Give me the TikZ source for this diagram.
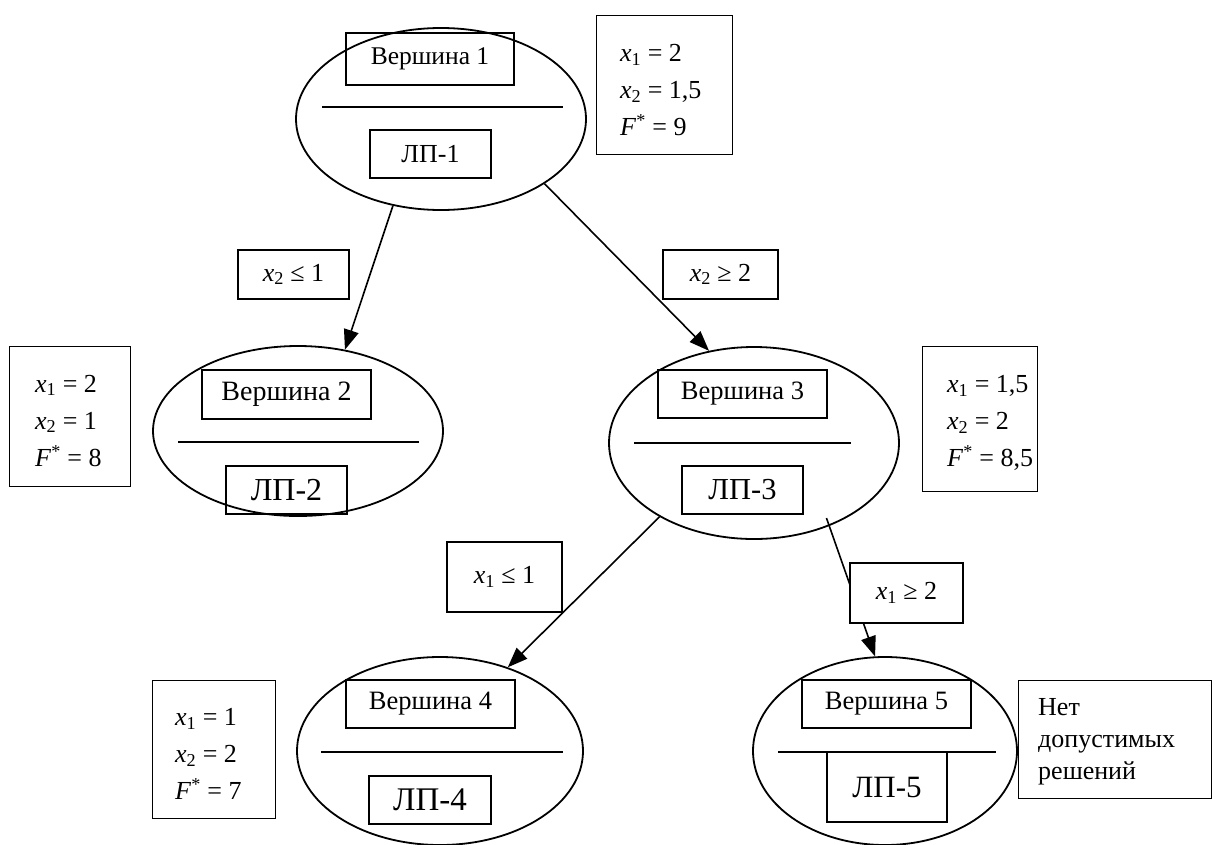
\documentclass[tikz,border=0pt]{standalone}
\usepackage{fontspec}
\setmainfont{Liberation Serif}
\usetikzlibrary{shapes.geometric,arrows.meta,calc}
\newcommand\fs[1]{\fontsize{#1}{#1}\selectfont}
\newcommand\vx[1]{\textit{x}\textsubscript{#1}}
\newcommand\Fs{\textit{F}\textsuperscript{*}}
\tikzset{
  vert/.style={ellipse, draw, line width=1.8pt, inner sep=0pt},
  hbox/.style={draw, line width=1.4pt, inner sep=0pt},
  sep/.style={line width=1.8pt},
  info/.style={draw, line width=1.4pt, anchor=north west, inner sep=0pt},
  itext/.style={anchor=west, align=left, inner sep=0pt, font=\fontsize{26}{37}\selectfont},
  cond/.style={draw, fill=white, line width=1.4pt, inner sep=0pt, font=\fs{26}},
  arr/.style={line width=1.6pt, -{Triangle[length=20pt,width=15pt]}}
}
\begin{document}
\begin{tikzpicture}[x=1pt,y=-1pt]
\useasboundingbox (0,0) rectangle (1216,844);
% vertices
\node[vert, minimum width=290pt, minimum height=182pt] (e1) at (441,119) {};
\node[vert, minimum width=290pt, minimum height=170pt] (e2) at (298,431) {};
\node[vert, minimum width=290pt, minimum height=192pt] (e3) at (754,443) {};
\node[vert, minimum width=286pt, minimum height=188pt] (e4) at (440,751) {};
\node[vert, minimum width=264pt, minimum height=188pt] (e5) at (885,751) {};
% inner boxes
\node[hbox, minimum width=168pt, minimum height=52pt, font=\fs{25.5}] (v1) at (430,59) {Вершина 1};
\draw[sep] (322,107) -- (563,107);
\node[hbox, minimum width=121pt, minimum height=48pt, font=\fs{26}] (l1) at (430.5,154) {ЛП-1};
\node[hbox, minimum width=169pt, minimum height=49pt, font=\fs{28}] (v2) at (286.5,394.5) {Вершина 2};
\draw[sep] (178,442) -- (419,442);
\node[hbox, minimum width=121pt, minimum height=48pt, font=\fs{32}] (l2) at (286.5,490) {ЛП-2};
\node[hbox, minimum width=169pt, minimum height=48pt, font=\fs{26.5}] (v3) at (742.5,394) {Вершина 3};
\draw[sep] (634,443) -- (851,443);
\node[hbox, minimum width=121pt, minimum height=48pt, font=\fs{30.5}] (l3) at (742.5,490) {ЛП-3};
\node[hbox, minimum width=169pt, minimum height=48pt, font=\fs{26.5}] (v4) at (430.5,704) {Вершина 4};
\draw[sep] (321,752) -- (563,752);
\node[hbox, minimum width=122pt, minimum height=48pt, font=\fs{33}] (l4) at (430,800) {ЛП-4};
\node[hbox, minimum width=169pt, minimum height=48pt, font=\fs{26.5}] (v5) at (886.5,704) {Вершина 5};
\draw[sep] (778,752) -- (996,752);
\node[hbox, minimum width=120pt, minimum height=70pt, font=\fs{31}] (l5) at (887,787) {ЛП-5};
% info boxes
\node[info, minimum width=136pt, minimum height=139pt] (i1) at (596,15) {};
\node[itext] (t1) at ([xshift=24pt,yshift=-5pt]i1.west) {\vx1 = 2\\ \vx2 = 1,5\\ \Fs{} = 9};
\node[info, minimum width=121pt, minimum height=140pt] (i2) at (9,346) {};
\node[itext] (t2) at ([xshift=26pt,yshift=-4pt]i2.west) {\vx1 = 2\\ \vx2 = 1\\ \Fs{} = 8};
\node[info, minimum width=115pt, minimum height=145pt] (i3) at (922,346) {};
\node[itext] (t3) at ([xshift=25pt,yshift=-4pt]i3.west) {\vx1 = 1,5\\ \vx2 = 2\\ \Fs{} = 8,5};
\node[info, minimum width=123pt, minimum height=138pt] (i4) at (152,680) {};
\node[itext] (t4) at ([xshift=23pt,yshift=-4pt]i4.west) {\vx1 = 1\\ \vx2 = 2\\ \Fs{} = 7};
\node[info, minimum width=193pt, minimum height=118pt] (i5) at (1018,680) {};
\node[itext, font=\fontsize{26}{32}\selectfont] (t5) at ([xshift=20pt,yshift=-2pt]i5.west) {Нет\\ допустимых\\ решений};
% connectors
\coordinate (s35) at ($(e3.center)!0.92!(e3.314)$);
\draw[arr] (e1.241) -- (e2.60);
\draw[arr] (e1.328) -- (e3.116);
\draw[arr] (e3.218) -- (e4.51);
\draw[arr] (s35) -- (e5.96);
% condition labels
\node[cond, minimum width=111pt, minimum height=49pt] (c1) at (293.5,274.5) {\vx2 ≤ 1};
\node[cond, minimum width=115pt, minimum height=49pt] (c2) at (720.5,274.5) {\vx2 ≥ 2};
\node[cond, minimum width=115pt, minimum height=70pt] (c3) at (504.5,577) {\vx1 ≤ 1};
\node[cond, minimum width=113pt, minimum height=60pt] (c4) at (906.5,593) {\vx1 ≥ 2};
\end{tikzpicture}
\end{document}
